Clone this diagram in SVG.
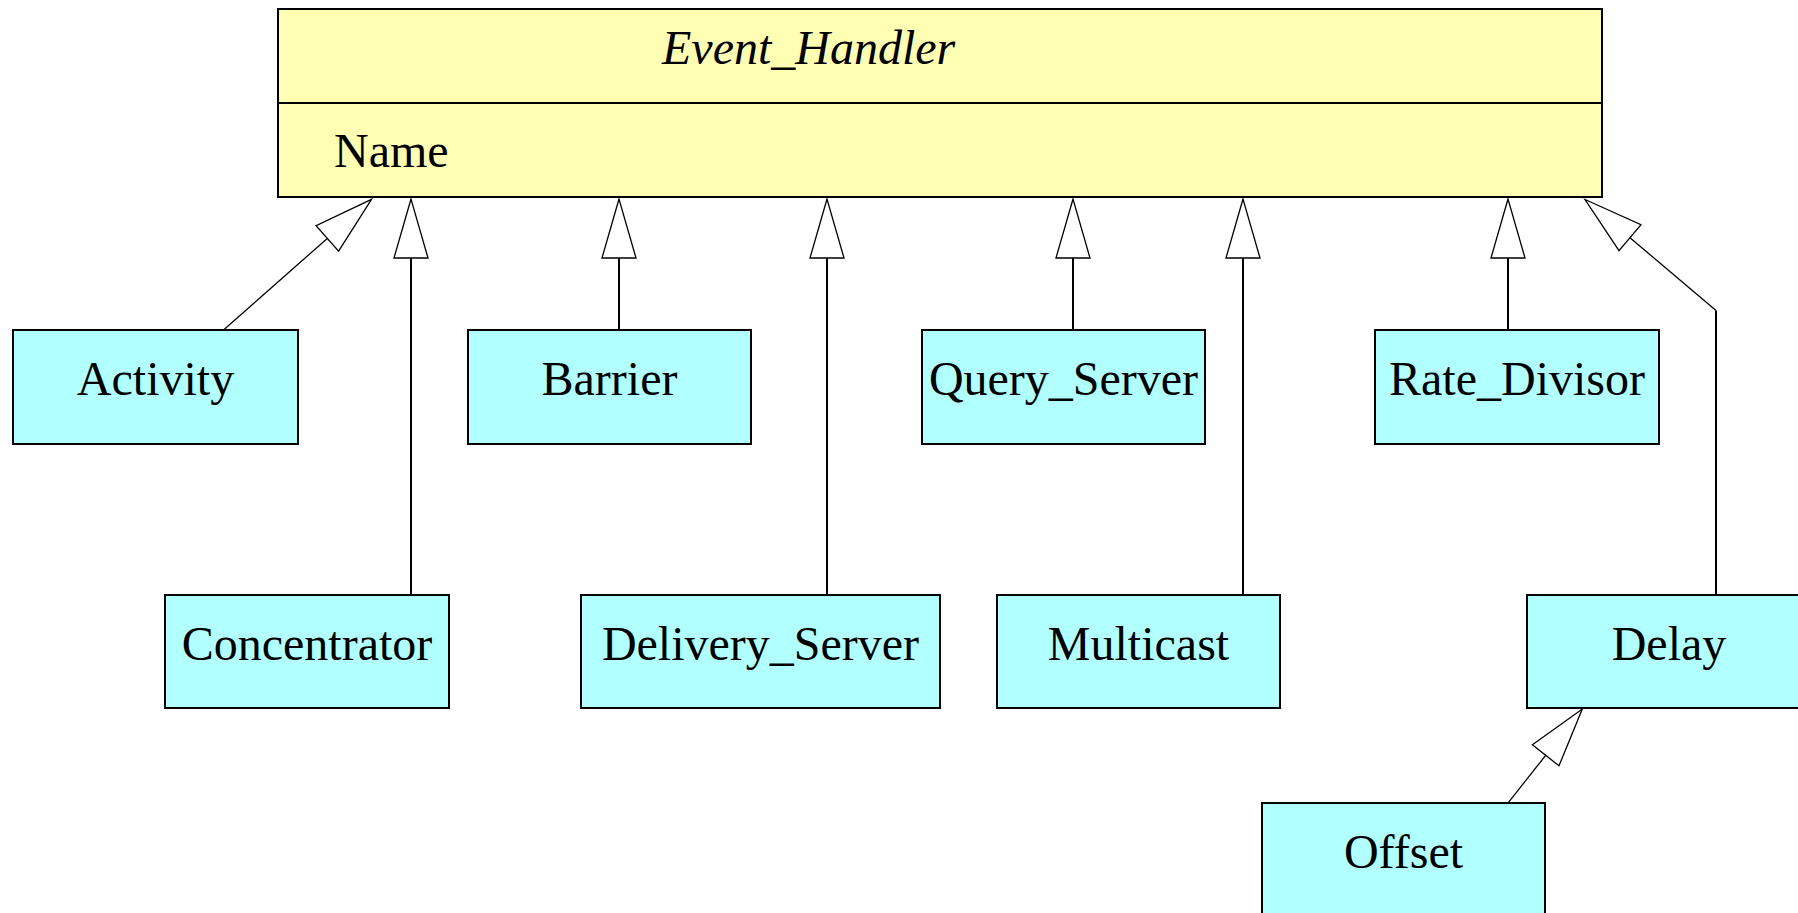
<svg xmlns="http://www.w3.org/2000/svg" width="1798" height="913" viewBox="0 0 1798 913">
<style>
.cls{fill:#ffffb4;stroke:#000;stroke-width:2}
.sub{fill:#b2ffff;stroke:#000;stroke-width:2}
.t{font-family:"Liberation Serif","Times New Roman",serif;font-size:48px;fill:#000}
.c{text-anchor:middle}
.it{font-style:italic}
.ln{fill:none;stroke:#000;stroke-width:2}
.dl{fill:none;stroke:#000;stroke-width:1.3}
.ah{fill:#fff;stroke:#000;stroke-width:1.3;stroke-linejoin:miter}
</style>
<rect width="1798" height="913" fill="#fff"/>
<g id="connectors">
  <!-- Activity -->
  <line class="dl" x1="223.5" y1="330" x2="327.3" y2="238.4"/>
  <polygon class="ah" points="371.5,199.3 338.6,251.2 316.1,225.7"/>
  <!-- Concentrator -->
  <line class="ln" x1="411" y1="595" x2="411" y2="258"/>
  <polygon class="ah" points="411,199 394,258 428,258"/>
  <!-- Barrier -->
  <line class="ln" x1="619" y1="330" x2="619" y2="258"/>
  <polygon class="ah" points="619,199 602,258 636,258"/>
  <!-- Delivery_Server -->
  <line class="ln" x1="827" y1="595" x2="827" y2="258"/>
  <polygon class="ah" points="827,199 810,258 844,258"/>
  <!-- Query_Server -->
  <line class="ln" x1="1073" y1="330" x2="1073" y2="258"/>
  <polygon class="ah" points="1073,199 1056,258 1090,258"/>
  <!-- Multicast -->
  <line class="ln" x1="1243" y1="595" x2="1243" y2="258"/>
  <polygon class="ah" points="1243,199 1226,258 1260,258"/>
  <!-- Rate_Divisor -->
  <line class="ln" x1="1508" y1="330" x2="1508" y2="258"/>
  <polygon class="ah" points="1508,199 1491,258 1525,258"/>
  <!-- Delay -->
  <line class="ln" x1="1716" y1="595" x2="1716" y2="310.6"/>
  <line class="dl" x1="1716" y1="310.6" x2="1630" y2="237.7"/>
  <polygon class="ah" points="1585,199.5 1641,224.7 1619,250.7"/>
  <!-- Offset -> Delay -->
  <line class="dl" x1="1508.3" y1="802.7" x2="1545.7" y2="755.3"/>
  <polygon class="ah" points="1582.3,709 1559,765.8 1532.4,744.8"/>
</g>
<g id="event_handler">
  <rect class="cls" x="278" y="9" width="1324" height="188"/>
  <line class="ln" x1="278" y1="103" x2="1602" y2="103"/>
  <text class="t it" x="662" y="64">Event_Handler</text>
  <text class="t" x="334" y="167">Name</text>
</g>
<g id="activity">
  <rect class="sub" x="13" y="330" width="285" height="114"/>
  <text class="t c" x="155.5" y="395">Activity</text>
</g>
<g id="barrier">
  <rect class="sub" x="468" y="330" width="283" height="114"/>
  <text class="t c" x="609.5" y="395">Barrier</text>
</g>
<g id="query_server">
  <rect class="sub" x="922" y="330" width="283" height="114"/>
  <text class="t c" x="1063.5" y="395">Query_Server</text>
</g>
<g id="rate_divisor">
  <rect class="sub" x="1375" y="330" width="284" height="114"/>
  <text class="t c" x="1517" y="395">Rate_Divisor</text>
</g>
<g id="concentrator">
  <rect class="sub" x="165" y="595" width="284" height="113"/>
  <text class="t c" x="307" y="660">Concentrator</text>
</g>
<g id="delivery_server">
  <rect class="sub" x="581" y="595" width="359" height="113"/>
  <text class="t c" x="760.5" y="660">Delivery_Server</text>
</g>
<g id="multicast">
  <rect class="sub" x="997" y="595" width="283" height="113"/>
  <text class="t c" x="1138.5" y="660">Multicast</text>
</g>
<g id="delay">
  <rect class="sub" x="1527" y="595" width="284" height="113"/>
  <text class="t c" x="1669" y="660">Delay</text>
</g>
<g id="offset">
  <rect class="sub" x="1262" y="803" width="283" height="113"/>
  <text class="t c" x="1403.5" y="868">Offset</text>
</g>
</svg>
